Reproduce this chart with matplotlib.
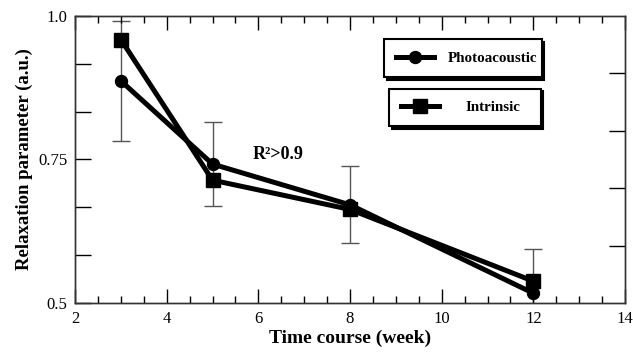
import numpy as np
import matplotlib
matplotlib.use("Agg")
import matplotlib.pyplot as plt
from matplotlib.ticker import FixedLocator, FixedFormatter, MultipleLocator

# dados
semanas = [3, 5, 8, 12]
fotoacustico = [0.887, 0.742, 0.671, 0.517]
erro_fotoacustico = [0.105, 0.073, 0.067, 0.077]
intrinseco = [0.959, 0.714, 0.663, 0.538]

yticks_esq = [0.5, 0.5833, 0.6667, 0.75, 0.8333, 0.9167, 1.0]
yticks_esq_rotulos = ["0.5", "", "", "0.75", "", "", "1.0"]
yticks_dir = [0.6, 0.7, 0.8, 0.9]

plt.rcParams['font.family'] = ['Liberation Serif', 'DejaVu Serif']

fig = plt.figure(figsize=(6.33, 3.54), dpi=100)
ax = fig.add_axes([0.1185, 0.1441, 0.8689, 0.8107])

ax.errorbar(semanas, fotoacustico, yerr=erro_fotoacustico, fmt='none',
            ecolor='#555555', elinewidth=1, capsize=6.5, capthick=1, zorder=1)
linha_foto, = ax.plot(semanas, fotoacustico, color='black', linewidth=3.6, marker='o',
                      markersize=8.6, label='Photoacoustic', zorder=3)
linha_intr, = ax.plot(semanas, intrinseco, color='black', linewidth=3.6, marker='s',
                      markersize=9.4, label='Intrinsic', zorder=3)

ax.text(5.88, 0.758, "R²>0.9", fontsize=13, fontweight='bold', va='center', ha='left')

ax.set_xlim(2, 14)
ax.set_ylim(0.5, 1.0)
ax.xaxis.set_major_locator(MultipleLocator(2))
ax.xaxis.set_minor_locator(MultipleLocator(0.5))
ax.yaxis.set_major_locator(FixedLocator(yticks_esq))
ax.yaxis.set_major_formatter(FixedFormatter(yticks_esq_rotulos))
ax.tick_params(axis='x', which='major', direction='in', length=10, width=1,
               top=True, labelsize=12, pad=6)
ax.tick_params(axis='x', which='minor', direction='in', length=5, width=1, top=True)
ax.tick_params(axis='y', which='major', direction='in', length=11.5, width=1,
               labelsize=12, pad=5.5)

# eixo da direita com marcas proprias
ax2 = ax.twinx()
ax2.set_ylim(0.5, 1.0)
ax2.yaxis.set_major_locator(FixedLocator(yticks_dir))
ax2.tick_params(axis='y', direction='in', length=11.5, width=1, labelright=False)

for a in (ax, ax2):
    for lado in a.spines.values():
        lado.set_color('#333333')
        lado.set_linewidth(1)

ax.set_xlabel("Time course (week)", fontsize=14, fontweight='bold', labelpad=2)
ax.set_ylabel("Relaxation parameter (a.u.)", fontsize=13.5, fontweight='bold', labelpad=4)

# duas caixas de legenda separadas, com sombra
estilo = dict(loc='center', mode='expand', frameon=True, fancybox=False,
              shadow={'color': 'black', 'alpha': 1}, edgecolor='black',
              framealpha=1, borderpad=0.8, handlelength=2.5,
              prop={'family': 'Liberation Serif', 'weight': 'bold', 'size': 10.8})
leg1 = ax2.legend([linha_foto], ['Photoacoustic'], handletextpad=0.9,
                  bbox_to_anchor=(0.549, 0.780, 0.313, 0.147), **estilo)
ax2.add_artist(leg1)
leg2 = ax2.legend([linha_intr], ['Intrinsic'], handletextpad=1.8,
                  bbox_to_anchor=(0.558, 0.610, 0.302, 0.143), **estilo)
for leg in (leg1, leg2):
    leg.get_frame().set_linewidth(1.5)

fig.savefig("out.png", dpi=100)
